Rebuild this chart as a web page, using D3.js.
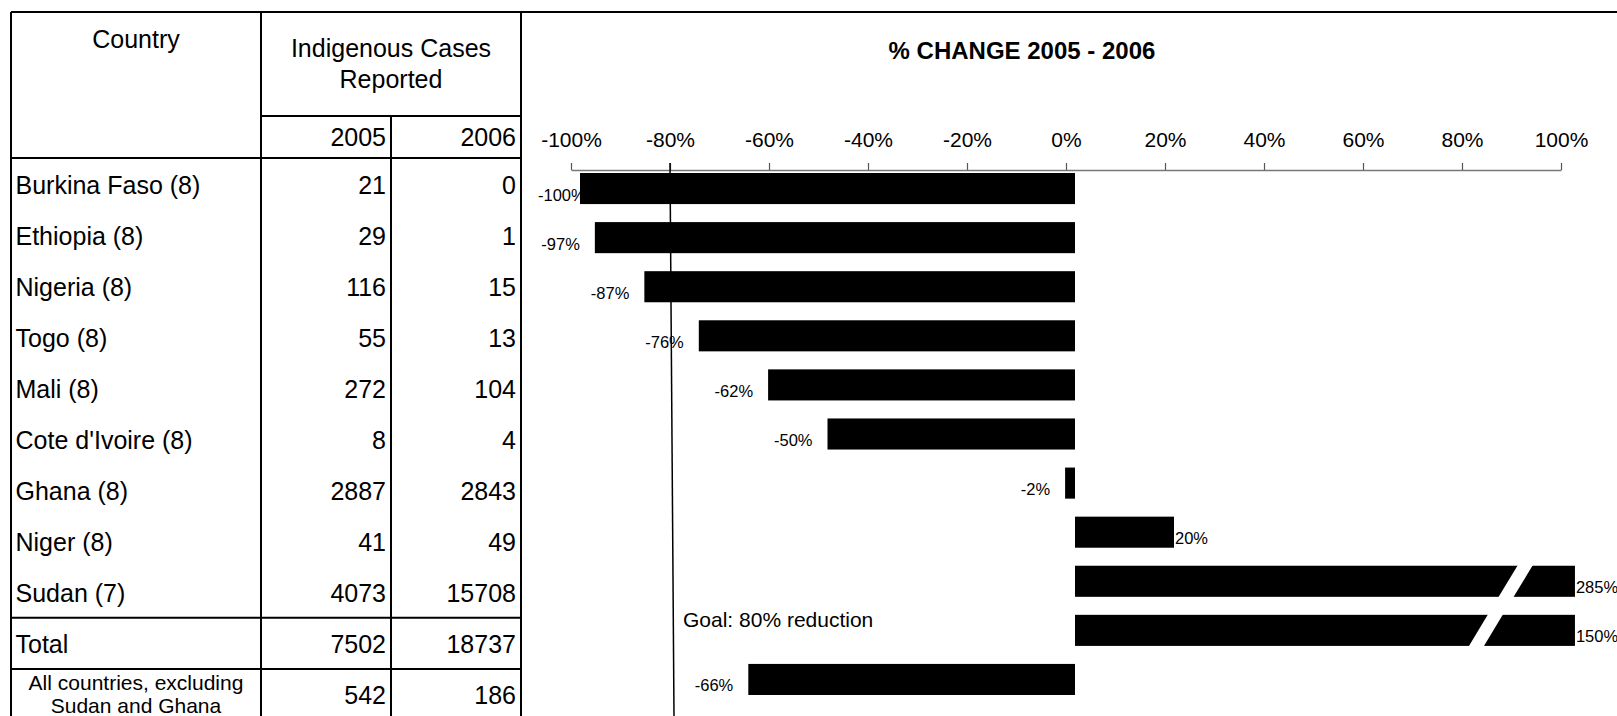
<!DOCTYPE html>
<html>
<head>
<meta charset="utf-8">
<script src="https://cdn.jsdelivr.net/npm/d3@7"></script>
<style>
  body { margin: 0; background: #fff; }
  svg { display: block; font-family: "Liberation Sans", Arial, sans-serif; }
</style>
</head>
<body>
<script>
// data
const rowLabels = ["Burkina Faso (8)", "Ethiopia (8)", "Nigeria (8)", "Togo (8)", "Mali (8)",
    "Cote d'Ivoire (8)", "Ghana (8)", "Niger (8)", "Sudan (7)", "Total",
    "All countries, excluding|Sudan and Ghana"];
const cases2005 = [21, 29, 116, 55, 272, 8, 2887, 41, 4073, 7502, 542];
const cases2006 = [0, 1, 15, 13, 104, 4, 2843, 49, 15708, 18737, 186];
const pctChange = [-100, -97, -87, -76, -62, -50, -2, 20, 285, 150, -66];
const axisTicks = [-100, -80, -60, -40, -20, 0, 20, 40, 60, 80, 100];
const brokenRows = ["Sudan (7)", "Total"];
const breakAt = [89, 83];
const goal = -80;

const svgWidth = 1617,
    svgHeight = 716;

const svg = d3.select("body").append("svg")
    .attr("width", svgWidth)
    .attr("height", svgHeight);

// table geometry
const col = { left: 11, c1: 261, c2: 391, right: 521 };
const rowY = d3.scaleBand().domain(rowLabels).range([158, 720]);

// chart scales (bars sit a few px right of the printed axis, as in the original)
const xAxis = d3.scaleLinear().domain([-100, 100]).range([571, 1561]);
const xBar = d3.scaleLinear().domain([-100, 100]).range([580, 1570]);
const barY = d3.scaleBand().domain(rowLabels).range([173, 695]).paddingInner(0.367);
const barCap = 101;

// ---- table lines
const lines = [
    [col.left, 12, svgWidth, 12],
    [col.left, 12, col.left, svgHeight],
    [col.c1, 12, col.c1, svgHeight],
    [col.right, 12, col.right, svgHeight],
    [col.c1, 116, col.right, 116],
    [col.c2, 116, col.c2, svgHeight],
    [col.left, 158, col.right, 158],
    [col.left, rowY("Total"), col.right, rowY("Total")],
    [col.left, rowY("Total") + rowY.bandwidth(), col.right, rowY("Total") + rowY.bandwidth()]
];
svg.append("g").selectAll("line")
    .data(lines)
    .enter().append("line")
    .attr("x1", d => d[0]).attr("y1", d => d[1])
    .attr("x2", d => d[2]).attr("y2", d => d[3])
    .attr("stroke", "#000")
    .attr("stroke-width", 2);

// ---- table headers
const head = svg.append("g").attr("font-size", 25).attr("fill", "#000");
head.append("text").attr("x", (col.left + col.c1) / 2).attr("y", 48)
    .attr("text-anchor", "middle").text("Country");
head.append("text").attr("x", (col.c1 + col.right) / 2).attr("y", 57)
    .attr("text-anchor", "middle").text("Indigenous Cases");
head.append("text").attr("x", (col.c1 + col.right) / 2).attr("y", 88)
    .attr("text-anchor", "middle").text("Reported");
head.append("text").attr("x", col.c2 - 5).attr("y", 146)
    .attr("text-anchor", "end").text("2005");
head.append("text").attr("x", col.right - 5).attr("y", 146)
    .attr("text-anchor", "end").text("2006");

// ---- table rows
const rows = svg.append("g").selectAll("g")
    .data(rowLabels)
    .enter().append("g")
    .attr("transform", d => "translate(0," + (rowY(d) + rowY.bandwidth() / 2) + ")");

rows.each(function (d, i) {
    const g = d3.select(this);
    const parts = d.split("|");
    if (parts.length === 1) {
        g.append("text").attr("x", 15.5).attr("y", 10)
            .attr("font-size", 25).text(d);
    } else {
        g.selectAll("text.lbl")
            .data(parts)
            .enter().append("text")
            .attr("class", "lbl")
            .attr("x", (col.left + col.c1) / 2)
            .attr("y", (p, j) => -4 + j * 22.5)
            .attr("text-anchor", "middle")
            .attr("font-size", 21)
            .text(p => p);
    }
    g.append("text").attr("x", col.c2 - 5).attr("y", 10)
        .attr("text-anchor", "end").attr("font-size", 25).text(cases2005[i]);
    g.append("text").attr("x", col.right - 5).attr("y", 10)
        .attr("text-anchor", "end").attr("font-size", 25).text(cases2006[i]);
});

// ---- chart title
svg.append("text")
    .attr("x", 1022).attr("y", 59)
    .attr("text-anchor", "middle")
    .attr("font-size", 24)
    .attr("font-weight", "bold")
    .text("% CHANGE 2005 - 2006");

// ---- axis on top
const axisG = svg.append("g")
    .attr("transform", "translate(0,170)")
    .call(d3.axisTop(xAxis)
        .tickValues(axisTicks)
        .tickSize(7)
        .tickSizeOuter(0)
        .tickPadding(16)
        .tickFormat(d => d + "%"));
axisG.select(".domain").attr("stroke", "#777").attr("stroke-width", 1.5);
axisG.selectAll(".tick line").attr("stroke", "#555").attr("stroke-width", 1.2);
axisG.selectAll(".tick text")
    .attr("font-size", 21)
    .attr("font-family", "\"Liberation Sans\", Arial, sans-serif")
    .attr("fill", "#000");

// ---- bars
const bars = svg.append("g");
bars.selectAll("rect")
    .data(rowLabels)
    .enter().append("rect")
    .attr("x", (d, i) => xBar(Math.min(0, pctChange[i])))
    .attr("y", d => barY(d))
    .attr("width", (d, i) => Math.abs(xBar(Math.min(pctChange[i], barCap)) - xBar(0)))
    .attr("height", barY.bandwidth())
    .attr("fill", "#000");

// break marks on the bars that run off the scale
bars.selectAll("polygon")
    .data(brokenRows)
    .enter().append("polygon")
    .attr("points", (d, i) => {
        const gx = xBar(breakAt[i]),
            top = barY(d) - 1,
            bot = barY(d) + barY.bandwidth() + 1;
        return [[gx + 2.5, top], [gx + 17.5, top], [gx - 2.5, bot], [gx - 17.5, bot]].join(" ");
    })
    .attr("fill", "#fff");

// ---- data labels
const plotLeft = 538;
svg.append("g").selectAll("text")
    .data(rowLabels)
    .enter().append("text")
    .attr("font-size", 16.5)
    .attr("y", d => barY(d) + barY.bandwidth() / 2 + 12)
    .text((d, i) => pctChange[i] + "%")
    .each(function (d, i) {
        const t = d3.select(this);
        const v = pctChange[i];
        if (v < 0) {
            const w = this.getComputedTextLength();
            const start = Math.max(plotLeft, xBar(v) - 15 - w);
            t.attr("x", start);
        } else {
            t.attr("x", xBar(Math.min(v, barCap)) + 1);
        }
    });

// ---- goal line
svg.append("line")
    .attr("x1", xAxis(goal)).attr("y1", 163)
    .attr("x2", xAxis(goal) + 4).attr("y2", svgHeight)
    .attr("stroke", "#000")
    .attr("stroke-width", 1.5);

svg.append("text")
    .attr("x", 683).attr("y", 627)
    .attr("font-size", 21)
    .text("Goal: " + Math.abs(goal) + "% reduction");
</script>
</body>
</html>
